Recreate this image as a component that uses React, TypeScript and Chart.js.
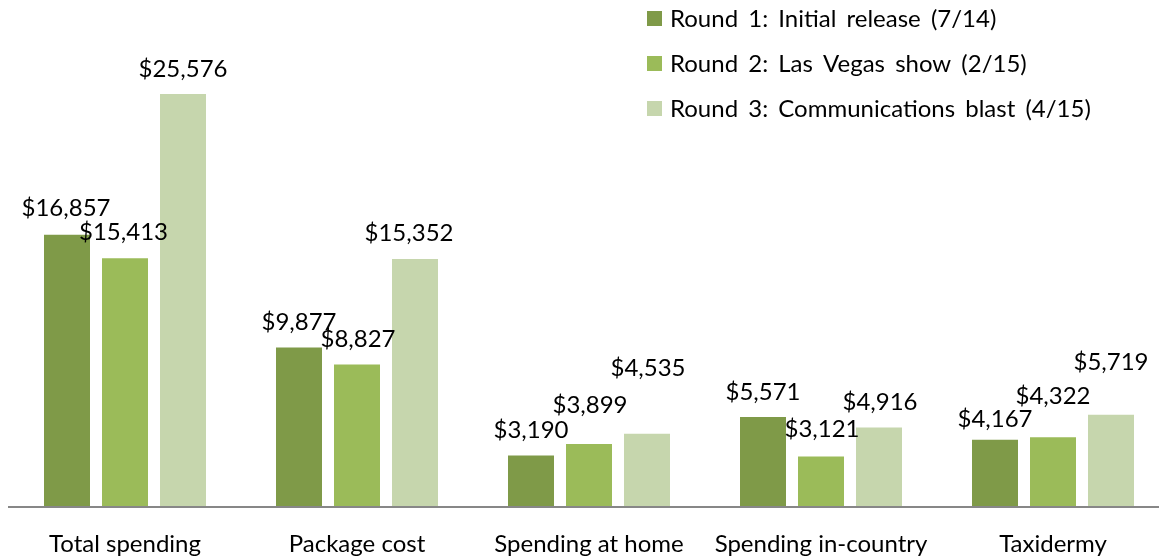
import React, { useEffect, useRef } from "react";
import { Chart, registerables } from "chart.js";

Chart.register(...registerables);

const categories = [
  "Total spending",
  "Package cost",
  "Spending at home",
  "Spending in-country",
  "Taxidermy",
];
const seriesNames = [
  "Round 1: Initial release (7/14)",
  "Round 2: Las Vegas show (2/15)",
  "Round 3: Communications blast (4/15)",
];
const round1 = [16857, 9877, 3190, 5571, 4167];
const round2 = [15413, 8827, 3899, 3121, 4322];
const round3 = [25576, 15352, 4535, 4916, 5719];

const colors = ["#7F9A48", "#9BBB59", "#C6D6AD"];
const FONT = "Lato, 'DejaVu Sans', sans-serif";

// label nudges (px) relative to the default spot above each bar
const labelDx = [
  [-1, 0, 0, 0, 0],
  [-1.5, 1, 1, 1, 0],
  [0, -6, 1, 1, 0],
];
const labelDy = [
  [1.5, 0, 0, 0, -5],
  [0.5, 0, 14, 2, 16],
  [0, 0.5, 41, 0, 27],
];

const fmt = (v: number) => "$" + v.toLocaleString("en-US");

const valueLabels = {
  id: "valueLabels",
  afterDatasetsDraw(chart: any) {
    const ctx = chart.ctx;
    ctx.save();
    ctx.font = `24px ${FONT}`;
    ctx.fillStyle = "#000";
    ctx.textAlign = "center";
    ctx.textBaseline = "middle";
    chart.data.datasets.forEach((ds: any, di: number) => {
      const meta = chart.getDatasetMeta(di);
      meta.data.forEach((el: any, i: number) => {
        const x = el.x + (labelDx[di]?.[i] ?? 0);
        const y = el.y - 25 - (labelDy[di]?.[i] ?? 0);
        ctx.fillText(fmt(ds.data[i]), x, y);
      });
    });
    ctx.restore();
  },
};

const sideLegend = {
  id: "sideLegend",
  afterDraw(chart: any) {
    const ctx = chart.ctx;
    ctx.save();
    ctx.font = `24px ${FONT}`;
    ctx.textAlign = "left";
    ctx.textBaseline = "middle";
    try {
      (ctx as any).wordSpacing = "4px";
    } catch (e) {}
    chart.data.datasets.forEach((ds: any, i: number) => {
      const cy = 18.5 + i * 44.8;
      ctx.fillStyle = ds.backgroundColor;
      ctx.fillRect(647, Math.round(cy - 7.5), 15, 15);
      ctx.fillStyle = "#000";
      ctx.fillText(ds.label, 670, cy + 1);
    });
    ctx.restore();
  },
};

export default function App() {
  const ref = useRef<HTMLCanvasElement | null>(null);
  useEffect(() => {
    if (!ref.current) return;
    const data = [round1, round2, round3];
    const chart = new Chart(ref.current, {
      type: "bar",
      data: {
        labels: categories,
        datasets: seriesNames.map((name, i) => ({
          label: name,
          data: data[i],
          backgroundColor: colors[i],
          borderWidth: 0,
          categoryPercentage: 0.75,
          barPercentage: 0.7931,
        })),
      },
      options: {
        responsive: false,
        animation: false,
        layout: { padding: { left: 9, right: 11, top: 0, bottom: 0 } },
        plugins: {
          legend: { display: false },
          tooltip: { enabled: false },
        },
        scales: {
          x: {
            grid: { display: false, drawTicks: false },
            border: { display: true, color: "#878787", width: 2, z: 1 },
            ticks: {
              color: "#000",
              padding: 25,
              font: { family: FONT, size: 24, lineHeight: 1 },
              maxRotation: 0,
              autoSkip: false,
            },
          },
          y: {
            display: false,
            min: 0,
            max: 31400,
          },
        },
      },
      plugins: [valueLabels, sideLegend],
    });
    return () => chart.destroy();
  }, []);
  return (
    <div
      style={{
        position: "fixed",
        left: 0,
        top: 0,
        width: 1159,
        height: 556,
        overflow: "hidden",
        background: "#fff",
      }}
    >
      <canvas ref={ref} width={1180} height={581} style={{ display: "block" }} />
    </div>
  );
}
